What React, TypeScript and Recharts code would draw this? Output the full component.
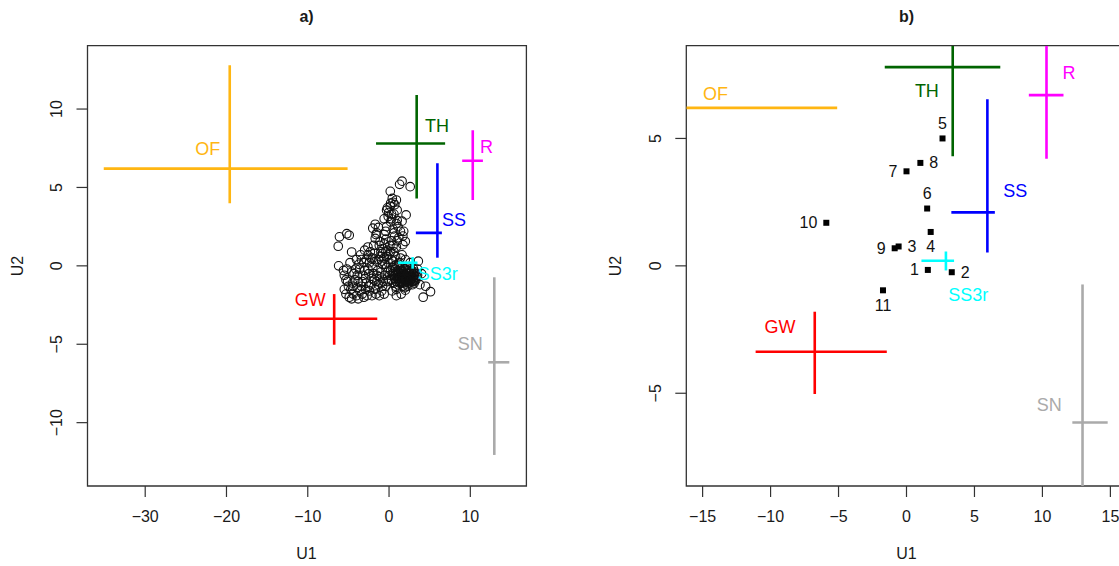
import React from "react";
import { ScatterChart, Scatter, XAxis, YAxis, ReferenceArea } from "recharts";

const FONT = "'Liberation Sans', Arial, Helvetica, sans-serif";

// group summaries: centre and spread on U1 / U2
const groups = ["OF", "TH", "R", "SS", "SS3r", "GW", "SN"];
const groupColors = ["#FFB612", "#006400", "#FF00FF", "#0000FF", "#00FFFF", "#FF0000", "#AAAAAA"];
const centerU1 = [-19.6, 3.4, 10.3, 5.95, 2.9, -6.75, 12.95];
const centerU2 = [6.2, 7.8, 6.7, 2.1, 0.2, -3.37, -6.15];
const lowU1 = [-35.1, -1.6, 9.0, 3.3, 1.1, -11.1, 12.2];
const highU1 = [-5.1, 6.9, 11.55, 6.5, 3.5, -1.45, 14.8];
const lowU2 = [4.0, 4.3, 4.2, 0.52, -0.18, -5.03, -12.06];
const highU2 = [12.8, 10.9, 8.65, 6.54, 0.56, -1.8, -0.73];

// where the group names sit in each panel
const labelU1A = [-22.3, 5.9, 12.0, 8.0, 6.0, -9.7, 10.0];
const labelU2A = [7.45, 8.95, 7.6, 2.95, -0.53, -2.2, -5.0];
const labelU1B = [-14.05, 1.5, 11.95, 8.0, 4.55, -9.3, 10.5];
const labelU2B = [6.76, 6.87, 7.55, 2.95, -1.14, -2.41, -5.47];

// panel b: site means
const siteIds = ["1", "2", "3", "4", "5", "6", "7", "8", "9", "10", "11"];
const siteU1 = [1.57, 3.33, -0.58, 1.78, 2.65, 1.52, 0.0, 1.02, -0.87, -5.9, -1.73];
const siteU2 = [-0.16, -0.25, 0.76, 1.33, 5.0, 2.25, 3.71, 4.04, 0.69, 1.69, -0.96];
const sitePos = [2, 4, 4, 1, 3, 3, 2, 4, 2, 2, 1]; // R text() pos codes

// panel a: individual samples (U1, U2)
const samplesA: [number, number][] = [
  [1.6, 5.4], [2.6, 5.05], [1.3, 5.2], [0.15, 4.75], [0.9, 4.2], [0.5, 4.05], [0.15, 3.8], [-0.3, 3.55],
  [-0.05, 3.4], [-0.1, 3.15], [0.3, 3.3], [1.0, 3.55], [2.1, 3.25], [1.6, 2.85], [0.9, 2.7], [1.1, 2.5],
  [0.5, 2.35], [-0.4, 2.2], [-1.3, 2.45], [-1.7, 2.65], [-2.0, 2.4], [-1.5, 2.1], [1.4, 2.2], [1.7, 1.9],
  [2.0, 1.55], [0.3, 3.0], [-0.6, 3.0], [0.6, 3.3], [0.4, 4.3], [1.8, 2.2], [0.2, 2.8], [-0.3, 2.5],
  [0.6, 2.1], [-0.6, 2.0], [-1.6, 2.0], [1.0, 2.9], [0.2, 4.0], [-0.2, 3.7], [0.7, 3.9], [1.2, 1.8],
  [-6.1, 1.85], [-5.2, 2.05], [-4.9, 1.95], [-6.25, 1.25], [-4.6, 0.88], [-6.2, 0.0],
  [-5.5, -0.6], [-5.3, -0.9], [-5.0, -1.3], [-5.5, -1.5], [-4.9, -2.0], [-4.4, -1.8], [-4.6, -0.4],
  [-4.2, -0.9], [-3.9, -1.4], [-3.3, -1.8], [-3.6, -0.2], [-3.1, 0.2], [-3.5, 0.7], [-2.6, 0.7],
  [-2.2, 0.5], [-2.4, -1.6], [-2.8, -1.1], [-2.5, -0.5], [-2.0, -0.1], [-1.8, -0.9], [-1.3, -1.2],
  [-1.6, 0.3], [-1.3, 0.4], [-1.0, -0.4], [-0.8, 0.8], [-0.7, -1.0], [-4.8, 0.2], [-4.0, 0.4],
  [-5.2, -0.2], [-4.3, -0.5], [-3.8, -1.0], [-3.2, -0.6], [-2.9, -1.5], [-2.1, -1.9], [-1.7, -1.5],
  [-1.5, -0.6], [-0.9, -1.6], [-0.4, -1.3], [-0.3, 0.6], [-0.5, 0.1], [-2.3, 0.9], [-3.0, 1.0],
  [-1.2, 1.3], [-1.9, 1.3], [-1.1, 1.55], [-0.75, 1.1], [0.5, 1.3], [1.7, 1.35], [-1.7, 1.75],
  [-5.6, -0.3], [-4.5, -1.1], [-3.4, -1.3], [-2.6, -0.2], [-2.0, 0.5], [-1.4, -0.3], [-0.9, 0.3],
  [-4.0, -1.9], [-3.6, -1.6], [-2.7, -1.9], [-1.2, -1.9], [-0.6, -1.8], [-4.7, -1.5], [-3.0, -0.3],
  [-2.2, -1.2], [-1.0, -1.1], [-5.1, -1.0], [-3.7, 0.1], [-2.8, 0.4],
  [-4.4, -1.3], [-3.9, -0.6], [-3.3, -1.0], [-2.5, -1.3], [-1.9, -0.5], [-1.2, -0.7], [-0.5, -0.6],
  [-2.9, -0.8], [-2.1, -0.8], [-1.5, -1.0], [-0.8, -1.3], [-0.2, -1.0], [-4.1, -0.2], [-3.4, 0.4],
  [-2.4, 0.2], [-1.8, 0.8], [-1.1, 0.6], [-0.6, 1.4], [-2.6, 1.2], [-3.8, -2.1], [-3.1, -2.0],
  [-1.6, -1.8], [-5.3, -1.8], [-4.6, -2.1],
  [-0.2, -0.4], [0.2, 0.9], [0.8, 0.6], [0.0, -0.9], [0.4, -1.6], [0.9, -1.9], [0.9, -1.5],
  [2.0, -1.55], [1.5, -1.8], [3.8, -1.2], [4.5, -1.3], [4.2, -2.0], [5.1, -1.65], [3.0, -1.0],
  [3.5, -0.6], [4.0, -0.5], [3.6, 0.3], [2.6, 0.2], [1.2, 0.1],
  [0.2, -0.3], [0.5, -0.6], [0.8, -0.2], [1.0, -0.8], [1.2, -0.4], [1.4, -1.0], [1.6, -0.6],
  [1.8, -0.2], [2.0, -0.9], [2.2, -0.5], [2.4, -1.1], [2.6, -0.7], [2.8, -0.3], [3.0, -0.8],
  [3.2, -0.4], [0.6, -1.1], [1.1, -1.2], [1.7, -1.3], [2.3, -0.1], [2.9, -1.2], [0.3, -0.9],
  [0.9, -0.5], [1.3, -0.7], [1.5, -0.3], [1.9, -0.6], [2.1, -1.0], [2.5, -0.4], [2.7, -0.9],
  [3.3, -0.9], [1.0, 0.0], [1.6, -0.9], [2.0, -0.3], [2.4, -0.8], [1.2, -0.9], [0.7, -0.8],
  [1.8, -1.1], [2.6, -0.2], [3.1, -0.6], [0.4, -0.1], [1.4, -0.5], [2.2, -0.7], [1.7, -0.4],
  [2.9, -0.5], [0.8, -1.3], [1.9, -1.4], [2.3, -1.3], [1.1, -0.6], [2.7, -0.6], [1.5, -1.1],
  [2.1, -0.2], [0.5, 0.3], [1.3, 0.2], [2.0, 0.4],
  [0.6, -0.4], [0.9, -1.0], [1.3, -1.1], [1.6, -0.8], [1.9, -0.9], [2.2, -1.2], [2.5, -0.9],
  [2.8, -1.0], [3.1, -1.1], [3.4, -0.7], [1.1, -0.3], [1.5, -0.7], [1.8, -0.5], [2.1, -0.6],
  [2.4, -0.5], [2.7, -0.4], [3.0, -0.2], [0.7, -0.6], [1.0, -0.4], [1.4, -0.2], [1.7, -0.7],
  [2.0, -0.7], [2.3, -0.9], [2.6, -1.0], [2.9, -0.7], [3.2, -0.9], [1.2, -0.8], [1.8, -0.8],
  [2.4, -0.3], [3.5, -0.2], [0.4, -0.5], [2.8, -0.8], [1.6, -1.0], [2.2, -0.9], [3.3, -0.5],
  [-0.6, 0.5], [-0.2, 1.0], [0.3, 1.6], [0.7, 1.9], [-0.4, 1.7], [0.0, 0.7], [0.6, 0.9],
  [1.0, 1.6], [-1.0, 0.9], [0.1, 1.3], [-0.8, 0.1], [0.9, 1.2], [1.6, 0.7], [1.4, 0.5], [-0.1, 0.2],
  [0.3, 0.4], [0.6, 0.0], [-0.3, -0.1], [0.1, -0.6], [-0.4, 0.9],
];

const xTicksA = [-30, -20, -10, 0, 10];
const yTicksA = [-10, -5, 0, 5, 10];
const xTicksB = [-15, -10, -5, 0, 5, 10, 15];
const yTicksB = [-5, 0, 5];

const fmt = (v: number) => (v < 0 ? "\u2212" + Math.abs(v) : String(v));

const XTick = (props: any) => {
  const { x, y, payload } = props;
  return (
    <text x={x} y={y} dy="0.71em" textAnchor="middle" fontSize={16} fill="#1a1a1a" fontFamily={FONT}>
      {fmt(payload.value)}
    </text>
  );
};

const YTick = (props: any) => {
  const { x, y, payload } = props;
  return (
    <text x={x} y={y} transform={`rotate(-90 ${x} ${y})`} textAnchor="middle" fontSize={16} fill="#1a1a1a" fontFamily={FONT}>
      {fmt(payload.value)}
    </text>
  );
};

const OpenCircle = (props: any) => (
  <circle cx={props.cx} cy={props.cy} r={4.3} fill="none" stroke="#111" strokeWidth={1.1} />
);

const FilledSquare = (props: any) => (
  <rect x={props.cx - 3} y={props.cy - 3} width={6} height={6} fill="#000" />
);

const NoMark = () => <g />;

const GroupLabel = (props: any) => {
  const { cx, cy, payload } = props;
  return (
    <text x={cx} y={cy} textAnchor="middle" dominantBaseline="central" fontSize={18} fill={payload.color} fontFamily={FONT}>
      {payload.name}
    </text>
  );
};

const SiteLabel = (props: any) => {
  const { cx, cy, payload } = props;
  let x = cx, y = cy, anchor = "middle";
  if (payload.pos === 1) y = cy + 15;
  if (payload.pos === 3) y = cy - 15;
  if (payload.pos === 2) { x = cx - 9; anchor = "end"; }
  if (payload.pos === 4) { x = cx + 9; anchor = "start"; }
  return (
    <text x={x} y={y} textAnchor={anchor} dominantBaseline="central" fontSize={16} fill="#111" fontFamily={FONT}>
      {payload.name}
    </text>
  );
};

const clamp = (v: number, d: number[]) => Math.max(d[0], Math.min(d[1], v));

// each group drawn as a "+" : horizontal and vertical spread through its centre
function crosses(xd: number[], yd: number[], key: string) {
  const out: React.ReactNode[] = [];
  groups.forEach((g, i) => {
    const col = groupColors[i];
    const cxIn = centerU1[i] >= xd[0] && centerU1[i] <= xd[1];
    const cyIn = centerU2[i] >= yd[0] && centerU2[i] <= yd[1];
    if (cyIn) {
      const seg = [{ x: clamp(lowU1[i], xd), y: centerU2[i] }, { x: clamp(highU1[i], xd), y: centerU2[i] }];
      out.push(
        <Scatter key={`${key}h${g}`} data={seg} line={{ stroke: col, strokeWidth: 2.6 }} shape={<NoMark />} isAnimationActive={false} />
      );
    }
    if (cxIn) {
      const seg = [{ x: centerU1[i], y: clamp(lowU2[i], yd) }, { x: centerU1[i], y: clamp(highU2[i], yd) }];
      out.push(
        <Scatter key={`${key}v${g}`} data={seg} line={{ stroke: col, strokeWidth: 2.6 }} shape={<NoMark />} isAnimationActive={false} />
      );
    }
  });
  return out;
}

const xDomA = [-37.1, 16.9];
const yDomA = [-14.04, 14.04];
const xDomB = [-16.2, 16.2];
const yDomB = [-8.64, 8.64];

const labelsA = groups.map((g, i) => ({ x: labelU1A[i], y: labelU2A[i], name: g, color: groupColors[i] }));
const labelsB = groups.map((g, i) => ({ x: labelU1B[i], y: labelU2B[i], name: g, color: groupColors[i] }));
const pointsA = samplesA.map(([x, y]) => ({ x, y }));
const sitesB = siteIds.map((s, i) => ({ x: siteU1[i], y: siteU2[i], name: s, pos: sitePos[i] }));

const textStyle: React.CSSProperties = {
  position: "absolute", fontFamily: FONT, fontSize: 16, color: "#1a1a1a", transform: "translate(-50%, -50%)", whiteSpace: "nowrap",
};

export default function App() {
  return (
    <div style={{ position: "fixed", left: 0, top: 0, width: 1119, height: 566, overflow: "hidden", background: "#fff" }}>
      <div style={{ position: "absolute", left: 0, top: 0 }}>
        <ScatterChart width={560} height={566} margin={{ top: 45.7, right: 33.6, bottom: 0, left: 0 }}>
          <XAxis type="number" dataKey="x" domain={xDomA} ticks={xTicksA} interval={0} allowDataOverflow
            height={80} tickSize={11} tickMargin={14} axisLine={false} tickLine={{ stroke: "#333", strokeWidth: 1.2 }} tick={<XTick />} />
          <YAxis type="number" dataKey="y" domain={yDomA} ticks={yTicksA} interval={0} allowDataOverflow
            width={87.5} tickSize={11} tickMargin={14} axisLine={false} tickLine={{ stroke: "#333", strokeWidth: 1.2 }} tick={<YTick />} />
          <ReferenceArea x1={xDomA[0]} x2={xDomA[1]} y1={yDomA[0]} y2={yDomA[1]} fill="none" fillOpacity={0} stroke="#333" strokeWidth={1.3} ifOverflow="visible" />
          <Scatter data={pointsA} shape={<OpenCircle />} isAnimationActive={false} />
          {crosses(xDomA, yDomA, "a")}
          <Scatter data={labelsA} shape={<GroupLabel />} isAnimationActive={false} />
        </ScatterChart>
      </div>
      <div style={{ position: "absolute", left: 560, top: 0 }}>
        <ScatterChart width={600} height={566} margin={{ top: 45.7, right: 33.3, bottom: 0, left: 0 }}>
          <XAxis type="number" dataKey="x" domain={xDomB} ticks={xTicksB} interval={0} allowDataOverflow
            height={80} tickSize={11} tickMargin={14} axisLine={false} tickLine={{ stroke: "#333", strokeWidth: 1.2 }} tick={<XTick />} />
          <YAxis type="number" dataKey="y" domain={yDomB} ticks={yTicksB} interval={0} allowDataOverflow
            width={126.3} tickSize={11} tickMargin={14} axisLine={false} tickLine={{ stroke: "#333", strokeWidth: 1.2 }} tick={<YTick />} />
          <ReferenceArea x1={xDomB[0]} x2={xDomB[1]} y1={yDomB[0]} y2={yDomB[1]} fill="none" fillOpacity={0} stroke="#333" strokeWidth={1.3} ifOverflow="visible" />
          {crosses(xDomB, yDomB, "b")}
          <Scatter data={sitesB} shape={<FilledSquare />} isAnimationActive={false} />
          <Scatter data={sitesB} shape={<SiteLabel />} isAnimationActive={false} />
          <Scatter data={labelsB} shape={<GroupLabel />} isAnimationActive={false} />
        </ScatterChart>
      </div>
      <div style={{ ...textStyle, left: 306.5, top: 17, fontWeight: "bold" }}>a)</div>
      <div style={{ ...textStyle, left: 906.5, top: 17, fontWeight: "bold" }}>b)</div>
      <div style={{ ...textStyle, left: 306.5, top: 554 }}>U1</div>
      <div style={{ ...textStyle, left: 906.5, top: 554 }}>U1</div>
      <div style={{ ...textStyle, left: 18, top: 266, transform: "translate(-50%, -50%) rotate(-90deg)" }}>U2</div>
      <div style={{ ...textStyle, left: 615.5, top: 266, transform: "translate(-50%, -50%) rotate(-90deg)" }}>U2</div>
    </div>
  );
}
